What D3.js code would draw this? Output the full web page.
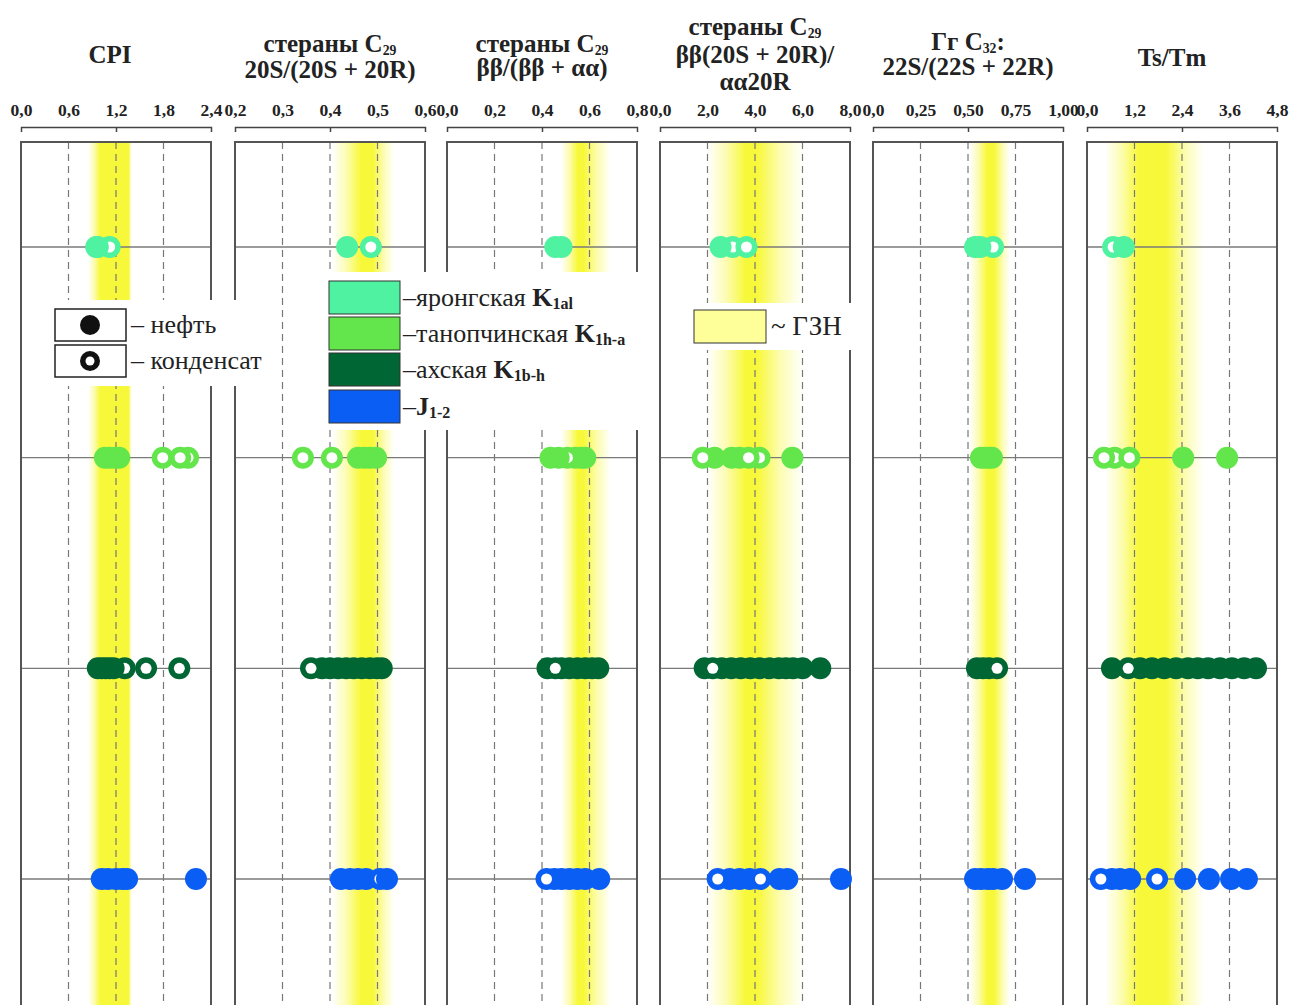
<!DOCTYPE html>
<html>
<head>
<meta charset="utf-8">
<script src="https://d3js.org/d3.v7.min.js"></script>
<style>
  body { margin: 0; background: #fff; }
  text { font-family: "Liberation Serif", "Times New Roman", serif; }
</style>
</head>
<body>
<svg width="1289" height="1005"></svg>
<script>
// panel titles, "_" marks a subscript
var titles = [
  [["CPI"]],
  [["стераны C", "_29"], ["20S/(20S + 20R)"]],
  [["стераны C", "_29"], ["ββ/(ββ + αα)"]],
  [["стераны C", "_29"], ["ββ(20S + 20R)/"], ["αα20R"]],
  [["Гг C", "_32", ":"], ["22S/(22S + 22R)"]],
  [["Ts/Tm"]]
];
var domains = [[0, 2.4], [0.2, 0.6], [0, 0.8], [0, 8], [0, 1], [0, 4.8]];
var tickLabels = [
  ["0,0", "0,6", "1,2", "1,8", "2,4"],
  ["0,2", "0,3", "0,4", "0,5", "0,6"],
  ["0,0", "0,2", "0,4", "0,6", "0,8"],
  ["0,0", "2,0", "4,0", "6,0", "8,0"],
  ["0,0", "0,25", "0,50", "0,75", "1,00"],
  ["0,0", "1,2", "2,4", "3,6", "4,8"]
];
// ГЗН band: [start, core from, core to, end]
var gzn = [
  [0.85, 1.0, 1.36, 1.40],
  [0.405, 0.465, 0.49, 0.535],
  [0.48, 0.55, 0.575, 0.69],
  [2.0, 3.6, 4.1, 6.0],
  [0.51, 0.60, 0.64, 0.72],
  [0.45, 1.3, 2.0, 2.95]
];

var formations = ["яронгская", "танопчинская", "ахская", ""];
var formIndex = [["K", "1al"], ["K", "1h-a"], ["K", "1b-h"], ["J", "1-2"]];
var formColors = ["#4ef2a0", "#63e64b", "#006633", "#0b5ef4"];

// points per panel: [value, 0 = нефть, 1 = конденсат], in drawing order
var yarong = [
  [[0.95, 0], [1.12, 1], [0.97, 0]],
  [[0.436, 0], [0.486, 1]],
  [[0.456, 0], [0.482, 0]],
  [[3.06, 1], [2.55, 0], [3.64, 1]],
  [[0.537, 0], [0.632, 1], [0.565, 0]],
  [[0.66, 1], [0.93, 0]]
];
var tanop = [
  [[1.06, 0], [1.12, 0], [1.19, 0], [1.24, 0], [1.79, 1], [2.11, 1], [2.01, 1]],
  [[0.343, 1], [0.459, 0], [0.472, 0], [0.484, 0], [0.497, 0], [0.404, 1]],
  [[0.436, 0], [0.54, 0], [0.565, 0], [0.582, 0], [0.507, 1], [0.47, 0]],
  [[2.30, 0], [1.80, 1], [3.02, 0], [4.19, 1], [3.35, 0], [3.73, 1], [5.57, 0]],
  [[0.568, 0], [0.589, 0], [0.611, 0], [0.626, 0]],
  [[0.70, 1], [0.43, 1], [1.07, 1], [2.43, 0], [3.54, 0]]
];
var akh = [
  [[1.31, 1], [0.97, 0], [1.02, 0], [1.07, 0], [1.12, 0], [1.17, 0], [1.58, 1], [2.0, 1]],
  [[0.383, 0], [0.40, 0], [0.417, 0], [0.434, 0], [0.45, 0], [0.467, 0], [0.484, 0], [0.499, 0], [0.509, 0], [0.36, 1]],
  [[0.423, 0], [0.482, 0], [0.515, 0], [0.549, 0], [0.582, 0], [0.611, 0], [0.637, 0], [0.456, 1]],
  [[1.88, 0], [2.6, 0], [3.0, 0], [3.4, 0], [3.8, 0], [4.2, 0], [4.6, 0], [5.0, 0], [5.3, 0], [5.6, 0], [6.0, 0], [6.75, 0], [2.22, 1]],
  [[0.547, 0], [0.579, 0], [0.611, 0], [0.653, 1]],
  [[0.63, 0], [1.34, 0], [1.64, 0], [1.95, 0], [2.25, 0], [2.55, 0], [2.80, 0], [3.06, 0], [3.36, 0], [3.66, 0], [3.97, 0], [4.27, 0], [1.04, 1]]
];
var jur = [
  [[1.02, 0], [1.10, 0], [1.20, 0], [1.28, 0], [1.34, 0], [2.21, 0]],
  [[0.423, 0], [0.442, 0], [0.459, 0], [0.476, 0], [0.505, 1], [0.52, 0]],
  [[0.452, 0], [0.482, 0], [0.515, 0], [0.549, 0], [0.582, 0], [0.641, 0], [0.419, 1]],
  [[2.93, 0], [3.35, 0], [3.77, 0], [5.03, 0], [5.36, 0], [7.62, 0], [2.43, 1], [4.23, 1]],
  [[0.537, 0], [0.568, 0], [0.605, 0], [0.632, 0], [0.679, 0], [0.80, 0]],
  [[0.63, 0], [0.83, 0], [1.09, 0], [2.48, 0], [3.08, 0], [3.64, 0], [4.04, 0], [0.35, 1], [1.77, 1]]
];
var series = [yarong, tanop, akh, jur];

var svg = d3.select("svg");
var panelLeft = [21, 235, 447, 660, 873, 1087],
    panelW = 190,
    boxTop = 142,
    boxBottom = 1010,
    r = 11, rIn = 5.5;
var titleShift = [-6, 0, 0, 0, 0, -10];
var titleBase = [[63], [52, 78], [52, 76], [35, 63, 90], [50, 75], [66]];

var y = d3.scalePoint().domain(d3.range(formations.length)).range([247, 879]);
var defs = svg.append("defs");

function addSegments(t, segs, size) {
  segs.forEach(function(s, k) {
    if (s[0] === "_") {
      t.append("tspan").attr("font-size", size * 0.55).attr("dy", size * 0.13).text(s.slice(1));
    } else {
      var ts = t.append("tspan").text(s);
      if (k > 0 && segs[k - 1][0] === "_") ts.attr("dy", -size * 0.13);
    }
  });
}

domains.forEach(function(dom, p) {
  var x0 = panelLeft[p];
  var x = d3.scaleLinear().domain(dom).range([x0, x0 + panelW]);
  var vals = d3.range(5).map(function(i) { return dom[0] + (dom[1] - dom[0]) * i / 4; });
  var g = svg.append("g");

  // title
  var cx = x0 + panelW / 2 + titleShift[p];
  titles[p].forEach(function(line, li) {
    var t = g.append("text").attr("x", cx).attr("y", titleBase[p][li])
      .attr("text-anchor", "middle").attr("font-size", 25).attr("font-weight", "bold").attr("fill", "#222");
    addSegments(t, line, 25);
  });

  // tick labels
  var lab = g.append("g").attr("transform", "translate(0,119)")
    .call(d3.axisTop(x).tickValues(vals).tickSize(0).tickFormat(function(d, i) { return tickLabels[p][i]; }));
  lab.select(".domain").remove();
  lab.selectAll("text").attr("font-family", "Liberation Serif").attr("font-size", 17.5)
    .attr("font-weight", "bold").attr("fill", "#222").attr("dy", 0);

  // bracket
  var br = g.append("g").attr("transform", "translate(0,127)")
    .call(d3.axisBottom(x).tickValues([vals[2]]).tickSize(5).tickSizeOuter(5).tickFormat(""));
  br.selectAll("path,line").attr("stroke", "#444").attr("stroke-width", 1.5);

  // ГЗН band
  var b = gzn[p], bx0 = x(b[0]), bx1 = x(b[3]);
  var grad = defs.append("linearGradient").attr("id", "gzn" + p)
    .attr("gradientUnits", "userSpaceOnUse").attr("x1", bx0).attr("x2", bx1).attr("y1", 0).attr("y2", 0);
  [[b[0], 0], [(b[0] + b[1]) / 2, 0.4], [b[1], 1], [b[2], 1], [(b[2] + b[3]) / 2, 0.4], [b[3], 0]].forEach(function(s) {
    grad.append("stop").attr("offset", (x(s[0]) - bx0) / (bx1 - bx0))
      .attr("stop-color", "#f8f83a").attr("stop-opacity", s[1]);
  });
  g.append("rect").attr("x", bx0).attr("y", boxTop).attr("width", bx1 - bx0)
    .attr("height", boxBottom - boxTop).attr("fill", "url(#gzn" + p + ")");

  // dashed grid
  g.selectAll(".grid").data(vals.slice(1, 4)).enter().append("line")
    .attr("x1", x).attr("x2", x).attr("y1", boxTop).attr("y2", boxBottom)
    .attr("stroke", "#777").attr("stroke-width", 1.2).attr("stroke-dasharray", "7,5");

  // row lines
  g.selectAll(".row").data(y.domain()).enter().append("line")
    .attr("x1", x0).attr("x2", x0 + panelW).attr("y1", y).attr("y2", y)
    .attr("stroke", "#7a7a7a").attr("stroke-width", 1.3);

  // box
  g.append("path").attr("d", "M" + x0 + "," + boxBottom + "V" + boxTop + "H" + (x0 + panelW) + "V" + boxBottom)
    .attr("fill", "none").attr("stroke", "#555").attr("stroke-width", 2);

  // points
  series.forEach(function(ser, f) {
    ser[p].forEach(function(pt) {
      g.append("circle").attr("cx", x(pt[0])).attr("cy", y(f)).attr("r", r).attr("fill", formColors[f]);
      if (pt[1] === 1)
        g.append("circle").attr("cx", x(pt[0])).attr("cy", y(f)).attr("r", rIn).attr("fill", "#fff");
    });
  });
});

var legSize = 27;

// legend: нефть / конденсат
var lg1 = svg.append("g");
lg1.append("rect").attr("x", 48).attr("y", 300).attr("width", 228).attr("height", 86).attr("fill", "#fff");
[["нефть", 0], ["конденсат", 1]].forEach(function(d, i) {
  var yy = 309 + i * 36;
  lg1.append("rect").attr("x", 55).attr("y", yy).attr("width", 71).attr("height", 32)
    .attr("fill", "#fff").attr("stroke", "#222").attr("stroke-width", 1.5);
  lg1.append("circle").attr("cx", 90).attr("cy", yy + 16).attr("r", 10).attr("fill", "#111");
  if (d[1]) lg1.append("circle").attr("cx", 90).attr("cy", yy + 16).attr("r", 4.5).attr("fill", "#fff");
  lg1.append("text").attr("x", 131).attr("y", yy + 24).attr("font-size", legSize - 1).attr("fill", "#222").text("– " + d[0]);
});

// legend: formations
var lg2 = svg.append("g");
lg2.append("rect").attr("x", 322).attr("y", 272).attr("width", 320).attr("height", 158).attr("fill", "#fff");
var swY = [281, 317, 353, 390];
formations.forEach(function(name, i) {
  lg2.append("rect").attr("x", 329).attr("y", swY[i]).attr("width", 71).attr("height", 33)
    .attr("fill", formColors[i]).attr("stroke", "#333").attr("stroke-width", 1);
  var t = lg2.append("text").attr("x", 403).attr("y", swY[i] + 25).attr("font-size", legSize - 1).attr("fill", "#222");
  t.append("tspan").text("–" + name + (name ? " " : ""));
  t.append("tspan").attr("font-weight", "bold").text(formIndex[i][0]);
  t.append("tspan").attr("font-weight", "bold").attr("font-size", 16).attr("dy", 3).text(formIndex[i][1]);
});

// legend: ГЗН
var lg3 = svg.append("g");
lg3.append("rect").attr("x", 688).attr("y", 303).attr("width", 164).attr("height", 47).attr("fill", "#fff");
lg3.append("rect").attr("x", 694).attr("y", 310).attr("width", 72).attr("height", 33)
  .attr("fill", "#ffff99").attr("stroke", "#333").attr("stroke-width", 1);
lg3.append("text").attr("x", 771).attr("y", 335).attr("font-size", legSize).attr("fill", "#222").text("~ ГЗН");
</script>
</body>
</html>
